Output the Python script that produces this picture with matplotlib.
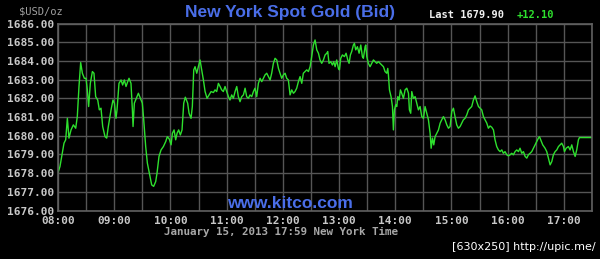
import matplotlib.pyplot as plt
from matplotlib.ticker import FixedLocator

# minutes after 08:00 and bid price
t_a = [0, 2.1, 4.6, 6.4, 8.2, 10.0, 11.7, 13.9, 16.4, 18.9, 20.6, 22.4, 24.2, 26.0, 28.1,
       29.9, 31.3, 32.7, 34.5, 36.7, 38.4, 40.2, 42.4, 44.1, 45.9, 47.7, 50.2, 52.0, 53.7,
       56.6, 58.7, 60.2, 61.9, 63.0, 65.1, 67.3, 69.0, 70.8, 72.6, 74.4, 75.8, 77.9, 79.4,
       80.1, 81.5, 83.6, 85.8, 87.9, 90.0, 91.5, 93.6, 95.4, 97.5, 100.0, 102.1, 104.3,
       105.7, 107.8, 110.0, 112.5, 115.0, 116.7, 118.9, 120.7, 122.1, 123.9, 125.6, 127.1,
       128.8, 130.6, 132.4, 134.2, 135.9]
p_a = [1678.03, 1678.35, 1679.06, 1679.60, 1679.78, 1680.93, 1679.87, 1680.31, 1680.58,
       1680.40, 1681.02, 1682.63, 1683.91, 1683.34, 1683.07, 1683.07, 1682.45, 1681.56,
       1682.80, 1683.43, 1683.34, 1682.09, 1681.91, 1681.38, 1681.47, 1680.49, 1679.95,
       1679.87, 1680.49, 1681.38, 1681.91, 1681.74, 1680.93, 1681.38, 1682.80, 1682.98,
       1682.71, 1682.98, 1682.63, 1682.89, 1683.07, 1682.80, 1681.38, 1680.49, 1681.74,
       1682.00, 1682.27, 1682.00, 1681.74, 1680.85, 1679.42, 1678.53, 1678.00, 1677.37,
       1677.29, 1677.55, 1678.00, 1678.89, 1679.24, 1679.42, 1679.69, 1679.95, 1679.81,
       1679.51, 1680.13, 1680.31, 1679.78, 1680.13, 1680.31, 1680.04, 1680.31, 1681.74,
       1682.06]

t_b = [138.4, 139.9, 142.0, 143.4, 144.9, 146.3, 148.1, 149.8, 151.6, 153.4, 155.2, 157.0,
       159.1, 161.2, 163.4, 165.9, 167.6, 169.4, 171.2, 173.0, 174.7, 176.5, 178.3, 180.1,
       181.9, 183.6, 185.4, 187.2, 189.0, 190.8, 192.5, 194.3, 196.1, 197.9, 199.7, 201.4,
       203.2, 205.0, 206.8, 208.6, 210.3, 212.1, 213.9, 215.7, 217.5, 219.2, 221.0, 222.8,
       224.6, 226.4, 228.1, 229.9, 231.7, 233.5, 235.3, 237.0, 238.8, 240.6, 242.4, 244.1,
       245.9, 247.7, 249.5, 251.3, 253.0, 254.8, 256.6, 258.4, 260.2, 261.9, 263.7, 265.5,
       267.3, 269.1, 270.8, 272.6, 274.4, 276.2, 278.0, 279.7]
p_b = [1681.74, 1681.20, 1680.93, 1681.56, 1683.52, 1683.69, 1683.34, 1683.69, 1684.05,
       1683.52, 1682.98, 1682.36, 1682.00, 1682.18, 1682.36, 1682.31, 1682.45, 1682.36,
       1682.80, 1682.63, 1682.45, 1682.36, 1682.63, 1682.36, 1682.09, 1681.91, 1682.18,
       1682.00, 1682.36, 1682.63, 1682.09, 1681.82, 1682.09, 1682.18, 1682.54, 1682.09,
       1682.00, 1682.18, 1682.09, 1682.36, 1682.54, 1682.09, 1682.80, 1683.07, 1682.89,
       1683.07, 1683.25, 1683.34, 1683.16, 1682.98, 1683.34, 1683.87, 1684.14, 1684.05,
       1683.60, 1683.34, 1683.07, 1683.25, 1683.34, 1683.07, 1682.98, 1682.18, 1682.45,
       1682.27, 1682.36, 1682.54, 1682.89, 1683.16, 1682.80, 1683.34, 1683.43, 1683.52,
       1683.43, 1683.69, 1684.23, 1684.85, 1685.12, 1684.59, 1684.41, 1684.05]

t_c = [281.5, 283.3, 285.1, 286.9, 287.9, 289.3, 291.1, 292.9, 294.3, 295.8, 297.5, 299.3,
       300.4, 301.8, 303.6, 305.7, 307.5, 309.3, 310.7, 312.1, 313.5, 315.3, 316.4, 317.8,
       319.6, 321.4, 323.2, 324.9, 326.0, 327.8, 328.5, 329.6, 331.3, 333.1, 334.9, 336.7,
       338.5, 340.2, 342.0, 343.8, 345.6, 347.4, 349.1, 350.9, 352.0, 352.7, 353.8, 355.5,
       357.0, 358.0, 359.1, 360.5, 361.6, 362.7, 364.1, 365.5, 366.9, 368.7, 370.5, 372.3,
       374.1, 375.1, 376.5, 377.6, 379.4, 381.2, 382.9, 384.7, 386.5, 388.3, 390.1, 391.8,
       393.6, 395.4, 397.2, 398.3, 399.7, 401.1, 402.5, 404.3, 406.1, 407.9, 409.6, 411.4,
       413.2, 415.0, 416.8, 418.5, 420.3, 422.1]
p_c = [1683.87, 1684.05, 1684.32, 1684.41, 1684.50, 1683.87, 1683.96, 1683.78, 1683.96,
       1683.69, 1684.05, 1683.60, 1683.52, 1684.14, 1684.32, 1684.23, 1684.41, 1684.05,
       1683.87, 1684.32, 1684.50, 1684.85, 1684.94, 1684.59, 1684.76, 1684.41, 1684.85,
       1684.23, 1684.14, 1684.76, 1684.85, 1684.23, 1683.87, 1683.69, 1683.87, 1684.05,
       1683.96, 1683.87, 1683.96, 1683.87, 1683.78, 1683.69, 1683.43, 1683.34, 1683.60,
       1683.25, 1682.45, 1682.09, 1681.56, 1680.31, 1681.38, 1681.65, 1681.56, 1682.09,
       1681.91, 1682.45, 1682.27, 1682.00, 1682.45, 1682.54, 1682.27, 1681.38, 1681.20,
       1682.36, 1682.00, 1682.09, 1681.74, 1681.38, 1681.56, 1681.02, 1680.93, 1681.56,
       1681.20, 1680.85, 1680.13, 1679.33, 1679.87, 1679.51, 1679.95, 1680.13, 1680.31,
       1680.67, 1680.85, 1681.02, 1680.85, 1680.58, 1680.40, 1680.49, 1681.29, 1681.47]

t_d = [423.8, 425.6, 427.4, 429.2, 431.0, 432.7, 434.5, 436.3, 438.1, 439.9, 441.6, 443.4,
       445.2, 447.0, 448.8, 450.5, 452.3, 454.1, 455.9, 457.7, 459.4, 461.2, 463.0, 464.8,
       466.5, 468.3, 470.1, 471.9, 473.7, 475.4, 477.2, 479.0, 480.8, 482.6, 484.3, 486.1,
       487.9, 489.7, 491.5, 493.2, 495.0, 496.8, 498.6, 500.4, 502.1, 503.9, 505.7, 507.5,
       509.3, 511.0, 512.8, 513.9, 515.3, 517.4, 519.9, 521.7, 523.5, 525.3, 527.1, 528.8,
       530.6, 532.4, 534.2, 536.0, 537.7, 539.5, 540.6, 542.4, 544.8, 546.6, 548.4, 550.2,
       552.0, 553.7, 555.5, 556.6, 570]
p_d = [1681.02, 1680.58, 1680.40, 1680.49, 1680.67, 1680.85, 1680.93, 1681.11, 1681.38,
       1681.47, 1681.56, 1681.91, 1682.13, 1681.82, 1681.56, 1681.47, 1681.38, 1681.02,
       1680.85, 1680.67, 1680.40, 1680.52, 1680.45, 1680.31, 1679.78, 1679.42, 1679.24,
       1679.15, 1679.24, 1679.06, 1679.15, 1678.98, 1678.92, 1678.98, 1679.06, 1678.98,
       1679.15, 1679.24, 1679.15, 1679.33, 1679.06, 1679.15, 1678.89, 1678.80, 1678.98,
       1679.06, 1679.15, 1679.33, 1679.51, 1679.69, 1679.87, 1679.95, 1679.78, 1679.51,
       1679.33, 1679.15, 1678.80, 1678.44, 1678.62, 1678.98, 1679.15, 1679.24, 1679.42,
       1679.51, 1679.60, 1679.42, 1679.15, 1679.33, 1679.42, 1679.24, 1679.51, 1679.15,
       1678.89, 1679.24, 1679.78, 1679.90, 1679.90]

minutes = t_a + t_b + t_c + t_d
price = p_a + p_b + p_c + p_d

hour_labels = ["08:00", "09:00", "10:00", "11:00", "12:00",
               "13:00", "14:00", "15:00", "16:00", "17:00"]
price_ticks = [1676, 1677, 1678, 1679, 1680, 1681, 1682, 1683, 1684, 1685, 1686]

title = "New York Spot Gold (Bid)"
last_price = "Last 1679.90"
change = "+12.10"
stamp = "January 15, 2013 17:59 New York Time"

mono = "DejaVu Sans Mono"
grey = "#c8c8c8"
grid_c = "#555555"

fig = plt.figure(figsize=(6, 2.59), dpi=100, facecolor="black")
ax = fig.add_axes([58 / 600, 1 - 210.5 / 259, 534 / 600, 187 / 259])
ax.set_facecolor("black")

ax.plot(minutes, price, color="#2ee02e", lw=1.0)

ax.set_xlim(0, 570)
ax.set_ylim(1676, 1686)
ax.xaxis.set_major_locator(FixedLocator([i * 60 for i in range(len(hour_labels))]))
ax.xaxis.set_minor_locator(FixedLocator([30 + i * 60 for i in range(len(hour_labels))]))
ax.set_xticklabels(hour_labels)
ax.set_yticks(price_ticks)
ax.set_yticklabels([f"{v:.2f}" for v in price_ticks])
ax.grid(True, which="both", color=grid_c, lw=1.0)
ax.tick_params(which="both", length=0, colors=grey, labelsize=8)
ax.tick_params(axis="y", pad=3)
ax.tick_params(axis="x", pad=4)
for lab in ax.get_xticklabels() + ax.get_yticklabels():
    lab.set_family(mono)
    lab.set_weight("bold")
for s in ax.spines.values():
    s.set_color("#606060")
    s.set_linewidth(1.2)

fig.text(290 / 600, 1 - 12 / 259, title, color="#4a6ee8", fontsize=12.5,
         fontweight="bold", family="Liberation Sans", ha="center", va="center")
fig.text(41 / 600, 1 - 11 / 259, "$USD/oz", color="#a0a0a0", fontsize=7.5,
         family=mono, ha="center", va="center")
fig.text(429 / 600, 1 - 15 / 259, last_price, color="#f0f0f0", fontsize=7.5,
         family=mono, fontweight="bold", ha="left", va="center")
fig.text(517 / 600, 1 - 15 / 259, change, color="#2ee02e", fontsize=7.5,
         family=mono, fontweight="bold", ha="left", va="center")
fig.text(290 / 600, 1 - 203 / 259, "www.kitco.com", color="#4a6ee8", fontsize=12.5,
         family="Liberation Sans", fontweight="bold", ha="center", va="center")
fig.text(281 / 600, 1 - 232 / 259, stamp, color="#a8a8a8", fontsize=7.8,
         family=mono, fontweight="bold", ha="center", va="center")
fig.text(596 / 600, 1 - 247 / 259, "[630x250] http://upic.me/", color="white",
         fontsize=8, family="DejaVu Sans", ha="right", va="center")

fig.savefig("out.png", dpi=100, facecolor="black")
